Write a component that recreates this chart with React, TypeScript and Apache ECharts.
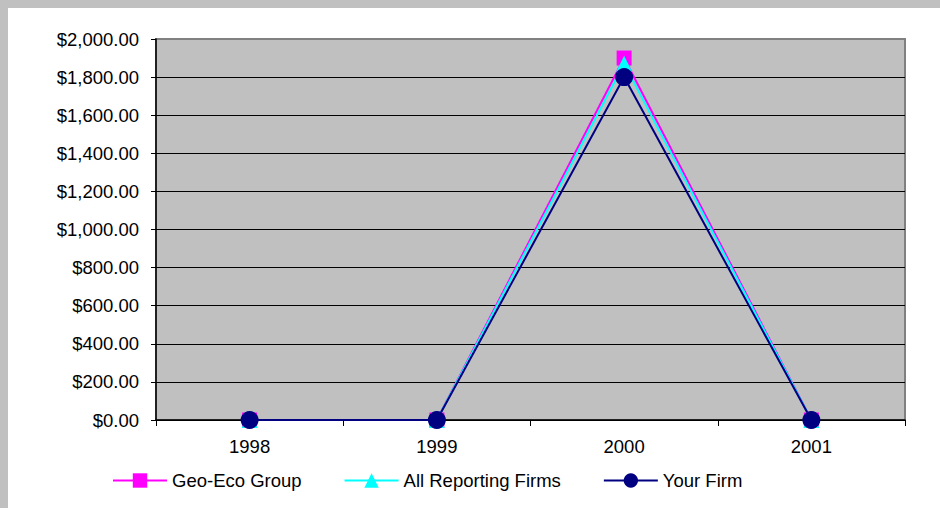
import React, { useEffect, useRef } from "react";
import * as echarts from "echarts";

const categories = ["1998", "1999", "2000", "2001"];
const geoEco = [0, 0, 1900, 0];
const allFirms = [0, 0, 1870, 0];
const yourFirm = [0, 0, 1800, 0];
const seriesNames = ["Geo-Eco Group", "All Reporting Firms", "Your Firm"];

const FONT = "'Liberation Sans', Arial, sans-serif";

export default function App() {
  const ref = useRef<HTMLDivElement>(null);
  useEffect(() => {
    document.body.style.margin = "8px 0 0 8px";
    document.body.style.background = "#c0c0c0";
    document.documentElement.style.overflow = "hidden";
    const chart = echarts.init(ref.current!, null, { renderer: "svg" });
    chart.setOption({
      animation: false,
      backgroundColor: "#ffffff",
      textStyle: { fontFamily: FONT },
      grid: {
        left: 148,
        top: 31,
        right: 35,
        bottom: 88,
        show: true,
        backgroundColor: "#c0c0c0",
        borderColor: "#808080",
        borderWidth: 2,
      },
      legend: {
        left: 99,
        top: 458,
        itemWidth: 54,
        itemHeight: 18,
        itemGap: 42,
        textStyle: { fontFamily: FONT, fontSize: 18.5, color: "#000" },
        data: seriesNames,
      },
      xAxis: {
        type: "category",
        data: categories,
        boundaryGap: true,
        axisLine: { lineStyle: { color: "#000", width: 1.5 } },
        axisTick: { show: true, length: 6, lineStyle: { color: "#000" } },
        axisLabel: { color: "#000", fontSize: 18.5, fontFamily: FONT, margin: 17 },
        splitLine: { show: false },
      },
      yAxis: {
        type: "value",
        min: 0,
        max: 2000,
        interval: 200,
        axisLine: { show: true, lineStyle: { color: "#000", width: 1.5 } },
        axisTick: { show: true, length: 5, lineStyle: { color: "#000" } },
        axisLabel: {
          color: "#000",
          fontSize: 18.5,
          fontFamily: FONT,
          margin: 17,
          formatter: (v: number) =>
            "$" + v.toLocaleString("en-US", { minimumFractionDigits: 2, maximumFractionDigits: 2 }),
        },
        splitLine: { show: true, showMaxLine: false, lineStyle: { color: "#000", width: 1 } },
      },
      series: [
        {
          name: seriesNames[0],
          type: "line",
          data: geoEco,
          symbol: "rect",
          symbolSize: 15,
          lineStyle: { color: "#ff00ff", width: 2 },
          itemStyle: { color: "#ff00ff", borderWidth: 0 },
        },
        {
          name: seriesNames[1],
          type: "line",
          data: allFirms,
          symbol: "triangle",
          symbolSize: 16,
          lineStyle: { color: "#00ffff", width: 2 },
          itemStyle: { color: "#00ffff", borderWidth: 0 },
        },
        {
          name: seriesNames[2],
          type: "line",
          data: yourFirm,
          symbol: "circle",
          symbolSize: 18,
          lineStyle: { color: "#000080", width: 2 },
          itemStyle: { color: "#000080", borderWidth: 0 },
        },
      ],
    });
    return () => chart.dispose();
  }, []);
  return <div ref={ref} style={{ width: 932, height: 500, background: "#fff" }} />;
}
